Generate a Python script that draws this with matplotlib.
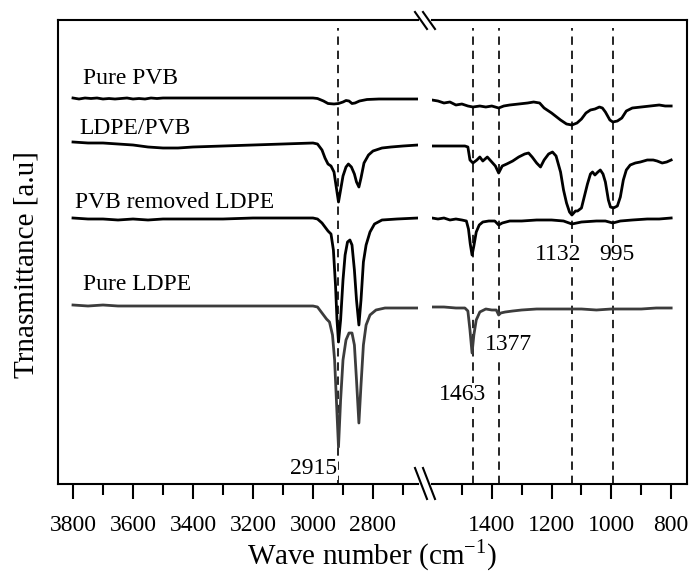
import numpy as np
import matplotlib
matplotlib.use("Agg")
import matplotlib.pyplot as plt
from matplotlib.lines import Line2D
from matplotlib.ticker import FixedLocator

plt.rcParams['font.family'] = ['Liberation Serif', 'DejaVu Serif']
plt.rcParams['mathtext.fontset'] = 'custom'
plt.rcParams['mathtext.rm'] = 'Liberation Serif'

# spectra, arbitrary offset transmittance units (high region, low region)
pvb_hi_w = [3800, 3780, 3760, 3740, 3720, 3700, 3680, 3660, 3640, 3620, 3600, 3580, 3560, 3540, 3520, 3500,
            3400, 3300, 3200, 3100, 3000, 2985, 2965, 2950, 2930, 2915, 2900, 2890, 2880, 2870, 2860, 2845,
            2820, 2780, 2700, 2650]
pvb_hi_t = [386, 385, 386, 385.5, 386, 385, 385.5, 385, 385.5, 386, 385, 385.5, 385, 386, 385.5, 386,
            386, 386, 386, 386, 386, 385.5, 383, 380.5, 380, 380.5, 382, 383.5, 383, 380.5, 381, 383,
            384.5, 385, 385, 385]
pvb_lo_w = [1600, 1580, 1560, 1540, 1520, 1500, 1480, 1463, 1440, 1420, 1400, 1377, 1360, 1340, 1310, 1280,
            1260, 1240, 1225, 1200, 1170, 1150, 1132, 1115, 1100, 1085, 1070, 1055, 1040, 1030, 1020, 1005,
            995, 980, 965, 950, 930, 900, 870, 840, 820, 800]
pvb_lo_t = [384, 383, 381, 382, 379, 380, 378, 377, 378, 377, 378, 376, 378, 379, 380, 381,
            382, 381, 376, 371, 364, 360, 359, 361, 365, 371, 374, 375, 377, 376, 372, 364,
            362, 363, 366, 373, 376, 377, 378, 379, 378, 378]

blend_hi_w = [3800, 3750, 3700, 3650, 3600, 3550, 3500, 3450, 3400, 3300, 3200, 3100, 3000, 2985, 2970, 2960,
              2950, 2940, 2930, 2922, 2915, 2908, 2900, 2890, 2882, 2872, 2862, 2855, 2847, 2840, 2830, 2815,
              2800, 2770, 2740, 2700, 2650]
blend_hi_t = [342, 341, 341, 340, 339, 337, 336, 336, 337, 338, 339, 340, 341, 340, 334, 326,
              320, 318, 312, 296, 282, 294, 308, 317, 320, 317, 310, 302, 297, 306, 321, 329,
              333, 336, 337, 338, 339]
blend_lo_w = [1600, 1560, 1520, 1490, 1480, 1473, 1463, 1450, 1440, 1430, 1415, 1400, 1388, 1377, 1365, 1350,
              1330, 1310, 1290, 1277, 1265, 1250, 1237, 1225, 1210, 1197, 1185, 1170, 1160, 1150, 1140, 1132,
              1120, 1113, 1100, 1090, 1080, 1070, 1063, 1055, 1045, 1037, 1028, 1020, 1010, 1003, 993, 980,
              970, 960, 950, 937, 920, 903, 880, 860, 847, 830, 815, 800]
blend_lo_t = [338, 338, 338, 338, 337, 324, 321, 324, 327, 323, 327, 322, 318, 311, 318, 320,
              323, 327, 330, 331, 327, 321, 317, 324, 330, 332, 328, 312, 294, 281, 272, 269,
              273, 273, 276, 288, 300, 310, 312, 309, 312, 314, 310, 302, 284, 277, 276, 278,
              287, 304, 314, 319, 321, 322, 324, 324, 323, 321, 322, 324]

rem_hi_w = [3800, 3750, 3700, 3650, 3600, 3550, 3500, 3400, 3300, 3200, 3100, 3000, 2985, 2970, 2960, 2950,
            2940, 2932, 2925, 2920, 2915, 2908, 2900, 2893, 2885, 2877, 2870, 2862, 2855, 2847, 2840, 2832,
            2823, 2810, 2795, 2770, 2720, 2650]
rem_hi_t = [266, 265, 265, 264, 265, 264, 265, 265, 265, 266, 266, 266, 265, 261, 257, 253,
            250, 234, 199, 164, 142, 164, 204, 229, 242, 244, 239, 214, 184, 159, 184, 222,
            239, 252, 260, 264, 265, 266]
rem_lo_w = [1600, 1580, 1560, 1540, 1520, 1500, 1485, 1478, 1472, 1466, 1460, 1452, 1442, 1430, 1410, 1390,
            1377, 1365, 1340, 1300, 1250, 1200, 1160, 1132, 1100, 1050, 1020, 995, 970, 930, 880, 840, 800]
rem_lo_t = [266, 265, 266, 264, 265, 264, 263, 255, 240, 229, 238, 252, 259, 262, 263, 263,
            259, 261, 263, 263, 264, 264, 263, 260, 262, 263, 263, 261, 263, 264, 265, 265, 266]

ldpe_hi_w = [3800, 3750, 3700, 3650, 3600, 3500, 3400, 3300, 3200, 3100, 3000, 2985, 2970, 2955, 2945, 2935,
             2928, 2922, 2915, 2908, 2900, 2890, 2880, 2870, 2862, 2855, 2847, 2840, 2832, 2823, 2810, 2790,
             2760, 2700, 2650]
ldpe_hi_t = [179, 178, 179, 178, 178, 178, 178, 178, 178, 178, 178, 177, 171, 165, 162, 149,
             124, 84, 37, 84, 124, 144, 151, 151, 139, 104, 61, 99, 139, 159, 169, 174,
             176, 176, 176]
ldpe_lo_w = [1600, 1560, 1520, 1490, 1480, 1473, 1466, 1460, 1452, 1440, 1420, 1400, 1385, 1377, 1370, 1355,
             1330, 1300, 1250, 1200, 1150, 1100, 1050, 1000, 950, 900, 850, 800]
ldpe_lo_t = [177, 177, 176, 176, 173, 154, 131, 149, 164, 172, 175, 174, 174, 169, 171, 172,
             173, 174, 175, 175, 175, 175, 174, 175, 175, 175, 176, 176]

peaks_hi = [2915]
peaks_lo = [1463, 1377, 1132, 995]

ticks_hi = [3800, 3600, 3400, 3200, 3000, 2800]
minor_hi = [3700, 3500, 3300, 3100, 2900, 2700]
ticks_lo = [1400, 1200, 1000, 800]
minor_lo = [1500, 1300, 1100, 900]

fig = plt.figure(figsize=(6.91, 5.81), dpi=100)
ax1 = fig.add_axes([58/691, 1-484/581, 360/691, 464/581])
ax2 = fig.add_axes([432/691, 1-484/581, 255/691, 464/581])

lw = 2.0
gray = '#3c3c3c'
ax1.plot(pvb_hi_w, pvb_hi_t, color='k', lw=lw)
ax1.plot(blend_hi_w, blend_hi_t, color='k', lw=lw)
ax1.plot(rem_hi_w, rem_hi_t, color='k', lw=lw)
ax1.plot(ldpe_hi_w, ldpe_hi_t, color=gray, lw=lw)
ax2.plot(pvb_lo_w, pvb_lo_t, color='k', lw=lw)
ax2.plot(blend_lo_w, blend_lo_t, color='k', lw=lw)
ax2.plot(rem_lo_w, rem_lo_t, color='k', lw=lw)
ax2.plot(ldpe_lo_w, ldpe_lo_t, color=gray, lw=lw)

for p in peaks_hi:
    ax1.plot([p, p], [0, 456], color='k', lw=1.2, ls=(0, (5, 3.5)), zorder=1)
for p in peaks_lo:
    ax2.plot([p, p], [0, 456], color='k', lw=1.2, ls=(0, (5, 3.5)), zorder=1)

fs = 17
box = dict(facecolor='white', edgecolor='none', pad=1)
ax1.text(3767, 405, 'Pure PVB', fontsize=fs, va='center')
ax1.text(3780, 356, 'LDPE/PVB', fontsize=fs, va='center')
ax1.text(3793, 282, 'PVB removed LDPE', fontsize=fs, va='center')
ax1.text(3767, 199, 'Pure LDPE', fontsize=fs, va='center')
ax1.text(2920, 16, '2915', fontsize=fs, ha='right', va='center', bbox=box)
ax2.text(1497, 89, '1463', fontsize=fs, ha='center', va='center', bbox=box)
ax2.text(1343, 139, '1377', fontsize=fs, ha='center', va='center', bbox=box)
ax2.text(1177, 229, '1132', fontsize=fs, ha='center', va='center', bbox=box)
ax2.text(980, 229, '995', fontsize=fs, ha='center', va='center', bbox=box)

ax1.set_xlim(3850, 2650)
ax2.set_xlim(1600, 747)
ax1.xaxis.set_major_locator(FixedLocator(ticks_hi))
ax1.xaxis.set_minor_locator(FixedLocator(minor_hi))
ax2.xaxis.set_major_locator(FixedLocator(ticks_lo))
ax2.xaxis.set_minor_locator(FixedLocator(minor_lo))
for ax in (ax1, ax2):
    ax.set_ylim(0, 464)
    ax.set_yticks([])
    ax.tick_params(axis='x', which='major', direction='out', length=11, width=1.5,
                   labelsize=fs, pad=11)
    ax.tick_params(axis='x', which='minor', direction='out', length=8, width=1.5)
    for s in ax.spines.values():
        s.set_linewidth(1.5)
ax1.spines['right'].set_visible(False)
ax2.spines['left'].set_visible(False)

# break marks
for (y0, y1) in [(12, 29), (468, 499)]:
    for x0 in (415, 423):
        fig.add_artist(Line2D([x0/691, (x0+12)/691], [1-y0/581, 1-y1/581],
                              color='k', lw=1.5))

fig.text(372/691, 1-555/581, 'Wave number (cm$^{-1}$)', fontsize=21, ha='center', va='center')
fig.text(27/691, 1-265/581, 'Trnasmittance [a.u]', fontsize=21, ha='center', va='center',
         rotation=90)

fig.savefig('out.png', dpi=100)
